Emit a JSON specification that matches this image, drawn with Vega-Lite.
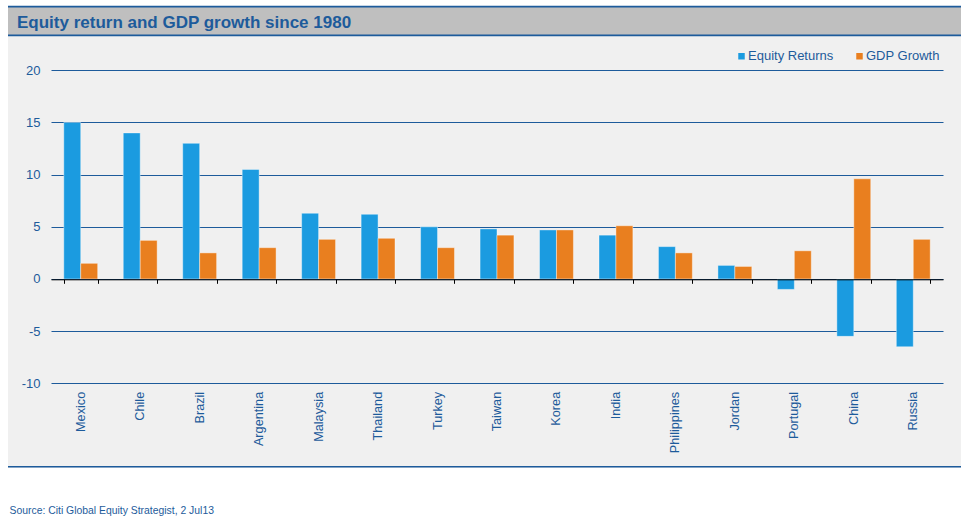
{
  "$schema": "https://vega.github.io/schema/vega-lite/v6.json",
  "width": 953,
  "height": 462,
  "autosize": {"type": "none"},
  "padding": {"left": 8, "top": 6, "right": 11, "bottom": 56},
  "background": "white",
  "title": {
    "text": "Equity return and GDP growth since 1980",
    "anchor": "start",
    "frame": "group",
    "dx": 9,
    "offset": -39.5,
    "font": "Liberation Sans",
    "fontSize": 17,
    "fontWeight": "bold",
    "color": "#1d5b9b",
    "baseline": "alphabetic"
  },
  "config": {
    "view": {"fill": "#f0f0f0", "stroke": null},
    "font": "Liberation Sans"
  },
  "data": {
    "values": [
      {"country": "Mexico", "series": "Equity Returns", "value": 15.0},
      {"country": "Mexico", "series": "GDP Growth", "value": 1.5},
      {"country": "Chile", "series": "Equity Returns", "value": 14.0},
      {"country": "Chile", "series": "GDP Growth", "value": 3.7},
      {"country": "Brazil", "series": "Equity Returns", "value": 13.0},
      {"country": "Brazil", "series": "GDP Growth", "value": 2.5},
      {"country": "Argentina", "series": "Equity Returns", "value": 10.5},
      {"country": "Argentina", "series": "GDP Growth", "value": 3.0},
      {"country": "Malaysia", "series": "Equity Returns", "value": 6.3},
      {"country": "Malaysia", "series": "GDP Growth", "value": 3.8},
      {"country": "Thailand", "series": "Equity Returns", "value": 6.2},
      {"country": "Thailand", "series": "GDP Growth", "value": 3.9},
      {"country": "Turkey", "series": "Equity Returns", "value": 5.0},
      {"country": "Turkey", "series": "GDP Growth", "value": 3.0},
      {"country": "Taiwan", "series": "Equity Returns", "value": 4.8},
      {"country": "Taiwan", "series": "GDP Growth", "value": 4.2},
      {"country": "Korea", "series": "Equity Returns", "value": 4.7},
      {"country": "Korea", "series": "GDP Growth", "value": 4.7},
      {"country": "India", "series": "Equity Returns", "value": 4.2},
      {"country": "India", "series": "GDP Growth", "value": 5.1},
      {"country": "Philippines", "series": "Equity Returns", "value": 3.1},
      {"country": "Philippines", "series": "GDP Growth", "value": 2.5},
      {"country": "Jordan", "series": "Equity Returns", "value": 1.3},
      {"country": "Jordan", "series": "GDP Growth", "value": 1.2},
      {"country": "Portugal", "series": "Equity Returns", "value": -1.0},
      {"country": "Portugal", "series": "GDP Growth", "value": 2.7},
      {"country": "China", "series": "Equity Returns", "value": -5.5},
      {"country": "China", "series": "GDP Growth", "value": 9.6},
      {"country": "Russia", "series": "Equity Returns", "value": -6.5},
      {"country": "Russia", "series": "GDP Growth", "value": 3.8}
    ]
  },
  "layer": [
    {
      "data": {"values": [{}]},
      "mark": {"type": "rect", "color": "#bfbfbf"},
      "encoding": {
        "y": {"datum": 26.1, "type": "quantitative", "scale": {"domain": [-10, 20], "range": [377.3, 64.3], "nice": false, "zero": false}},
        "y2": {"datum": 23.35}
      }
    },
    {
      "data": {"values": [{}]},
      "mark": {"type": "rule", "color": "#1d5b9b", "strokeWidth": 1.6},
      "encoding": {"y": {"datum": 26.1, "type": "quantitative"}}
    },
    {
      "data": {"values": [{}]},
      "mark": {"type": "rule", "color": "#1d5b9b", "strokeWidth": 1.6},
      "encoding": {"y": {"datum": 23.35, "type": "quantitative"}}
    },
    {
      "data": {"values": [{}]},
      "mark": {"type": "rule", "color": "#1d5b9b", "strokeWidth": 1.5},
      "encoding": {"y": {"datum": -18.0, "type": "quantitative"}}
    },
    {
      "mark": {"type": "bar", "stroke": "white", "strokeOpacity": 0.4, "strokeWidth": 1},
      "encoding": {
        "x": {
          "field": "country",
          "type": "nominal",
          "sort": ["Mexico", "Chile", "Brazil", "Argentina", "Malaysia", "Thailand", "Turkey", "Taiwan", "Korea", "India", "Philippines", "Jordan", "Portugal", "China", "Russia"],
          "scale": {"range": [43, 935], "paddingInner": 0.43, "paddingOuter": 0.215},
          "axis": {
            "orient": "bottom",
            "offset": -84.7,
            "domain": false,
            "ticks": false,
            "grid": false,
            "labelAngle": -90,
            "labelPadding": 8,
            "labelFont": "Liberation Sans",
            "labelFontSize": 12.7,
            "labelColor": "#1d5b9b",
            "title": "Source: Citi Global Equity Strategist, 2 Jul13",
            "titleX": 1,
            "titleY": 130,
            "titleAlign": "left",
            "titleBaseline": "alphabetic",
            "titleAngle": 0,
            "titleFont": "Liberation Sans",
            "titleFontSize": 10.4,
            "titleFontWeight": "normal",
            "titleColor": "#1d5b9b"
          }
        },
        "xOffset": {"field": "series", "type": "nominal", "sort": ["Equity Returns", "GDP Growth"]},
        "y": {
          "field": "value",
          "type": "quantitative",
          "scale": {"domain": [-10, 20], "range": [377.3, 64.3], "nice": false, "zero": false},
          "axis": {
            "orient": "left",
            "offset": -32,
            "values": [-10, -5, 0, 5, 10, 15, 20],
            "grid": true,
            "gridColor": "#1d5b9b",
            "gridWidth": 1,
            "domain": false,
            "ticks": false,
            "labelPadding": 0,
            "labelFont": "Liberation Sans",
            "labelFontSize": 13,
            "labelColor": "#1d5b9b",
            "labelExpr": "'' + datum.value",
            "title": null
          }
        },
        "color": {
          "field": "series",
          "type": "nominal",
          "scale": {"domain": ["Equity Returns", "GDP Growth"], "range": ["#1b9be0", "#e97f1f"]},
          "legend": {
            "orient": "none",
            "legendX": 727,
            "legendY": 43.5,
            "direction": "horizontal",
            "title": null,
            "symbolType": "square",
            "symbolSize": 42,
            "symbolStrokeWidth": 0,
            "labelFont": "Liberation Sans",
            "labelFontSize": 13,
            "labelColor": "#1d5b9b",
            "labelOffset": 0,
            "columnPadding": 19
          }
        }
      }
    },
    {
      "mark": {"type": "point", "opacity": 0},
      "encoding": {
        "x": {
          "field": "country",
          "type": "nominal",
          "sort": ["Mexico", "Chile", "Brazil", "Argentina", "Malaysia", "Thailand", "Turkey", "Taiwan", "Korea", "India", "Philippines", "Jordan", "Portugal", "China", "Russia"],
          "axis": {
            "orient": "bottom",
            "offset": -188.7,
            "labels": false,
            "domain": true,
            "domainColor": "black",
            "domainWidth": 1,
            "ticks": true,
            "tickColor": "black",
            "tickSize": 4,
            "tickWidth": 1,
            "tickBand": "extent",
            "grid": false,
            "title": null,
            "zindex": 2
          }
        },
        "y": {"datum": 0, "type": "quantitative"}
      }
    }
  ],
  "resolve": {"axis": {"x": "independent"}}
}
